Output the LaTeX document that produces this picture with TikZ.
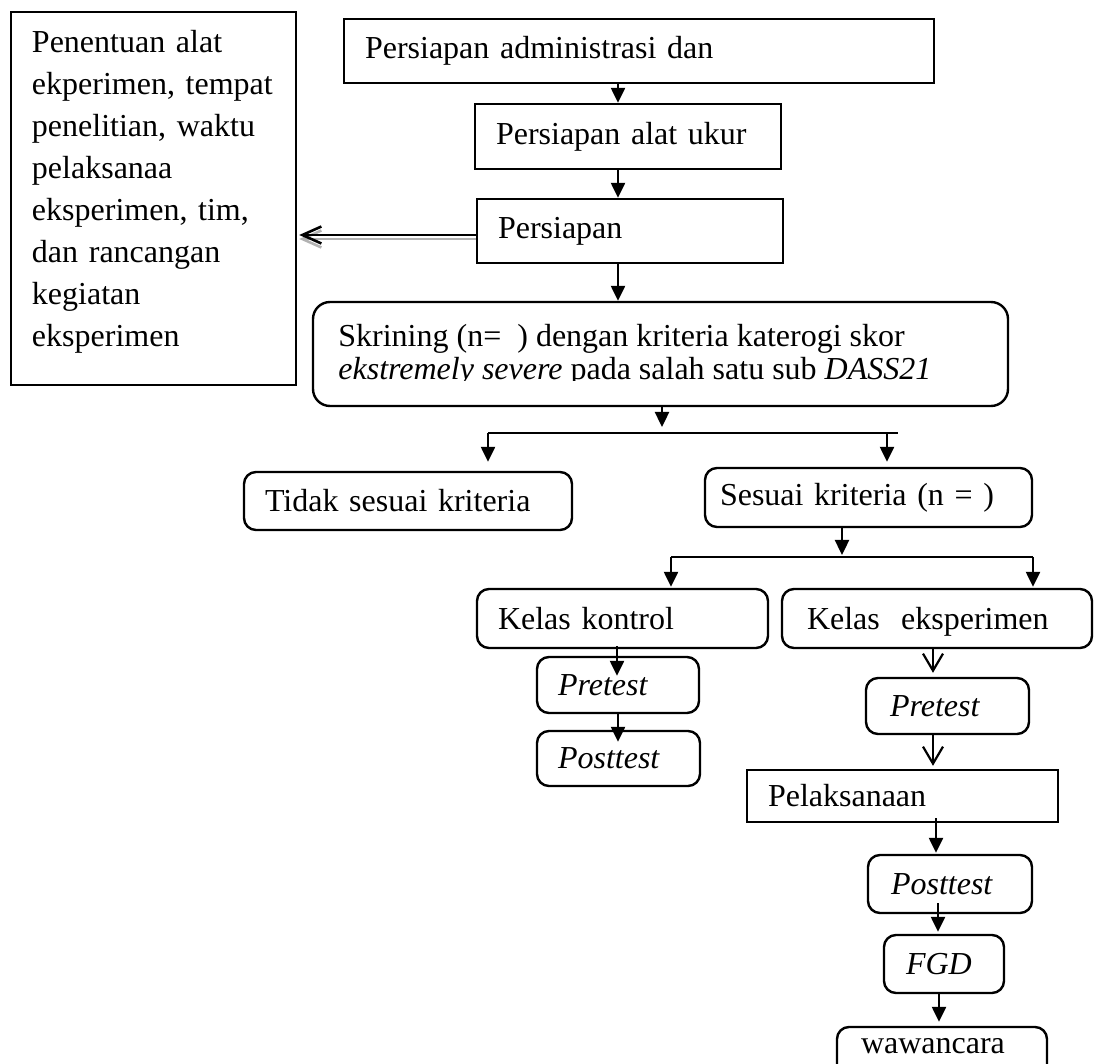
\documentclass[tikz,border=0pt]{standalone}
\usepackage{fontspec}
\setmainfont{Liberation Serif}
\usetikzlibrary{arrows.meta}

\begin{document}
\begin{tikzpicture}[x=0.5pt,y=-0.5pt,
    every node/.style={font=\fontsize{16pt}{21pt}\selectfont}]
      \tikzstyle{box}=[draw,line width=1.2pt,inner xsep=10.5pt,inner ysep=0pt,align=left]
      \tikzstyle{rbox}=[box,rounded corners=6pt]
      \tikzstyle{edge}=[draw,line width=1.2pt,-{Triangle[length=7.5pt,width=7pt]}]
      \tikzstyle{openedge}=[draw,line width=1.1pt,-{Straight Barb[length=8.5pt,width=10pt]}]
      \tikzstyle{link}=[draw,line width=1.2pt]
      \tikzstyle{back}=[draw,line width=1.3pt,-{Straight Barb[length=9.5pt,width=8.5pt]}]
      \useasboundingbox (0,0) rectangle (1094,1064);
      \clip (0,0) rectangle (1094,1064);
      \node[box,text width=274pt,minimum height=32pt] (adm) at (639,51) {Persiapan administrasi dan};
      \node[box,text width=132pt,minimum height=32.5pt] (alat) at (628,136.5) {Persiapan alat ukur};
      \node[box,text width=132pt,minimum height=32pt] (siap) at (630,231) {Persiapan};
      \node[box,text width=121.5pt,minimum height=186.5pt,text depth=157.5pt] (tentu) at (153.5,198.5)
        {Penentuan alat\\ ekperimen, tempat\\ penelitian, waktu\\ pelaksanaa\\ eksperimen, tim,\\ dan rancangan\\ kegiatan\\ eksperimen};
      \node[rbox,rounded corners=8.5pt,minimum width=347.5pt,minimum height=52pt] (skrin) at (660.5,354) {};
      \begin{scope}
        \clip (skrin.north west) rectangle (1008,381);
        \node[inner sep=0pt,anchor=north west,align=left,font=\fontsize{16pt}{16.5pt}\selectfont] (skrintxt) at (338,324)
          {Skrining (n=\ \ ) dengan kriteria katerogi skor\\ \textit{ekstremely severe} pada salah satu sub \textit{DASS21}};
      \end{scope}
      \node[rbox,text width=143pt,minimum height=29pt] (tidak) at (408,501) {Tidak sesuai kriteria};
      \node[rbox,inner xsep=7.5pt,text width=148.5pt,minimum height=29.5pt] (sesuai) at (868.5,497.5) {Sesuai kriteria (n = )};
      \node[rbox,text width=124.5pt,minimum height=29.5pt] (kontrol) at (622.5,618.5) {Kelas kontrol};
      \node[rbox,inner xsep=12.5pt,text width=130pt,minimum height=29.5pt,text depth=0pt] (eksp) at (937,618.5) {Kelas\ \ eksperimen};
      \node[rbox,text width=60pt,minimum height=28pt] (pre1) at (618,685) {\textit{Pretest}};
      \node[rbox,text width=60.5pt,minimum height=27.5pt] (post1) at (618.5,758.5) {\textit{Posttest}};
      \node[rbox,inner xsep=12pt,text width=57.5pt,minimum height=28pt] (pre2) at (947.5,706) {\textit{Pretest}};
      \node[box,text width=134.5pt,minimum height=26pt] (laks) at (902.5,796) {Pelaksanaan};
      \node[rbox,inner xsep=11.5pt,text width=59pt,minimum height=29pt] (post2) at (950,884) {\textit{Posttest}};
      \node[rbox,inner xsep=11pt,text width=38pt,minimum height=29pt] (fgd) at (944,964) {\textit{FGD}};
      \node[rbox,inner xsep=12pt,text width=81pt,minimum height=29pt,text depth=10pt] (wawan) at (942,1056) {wawancara};
      \coordinate (c1) at (662,427);
      \coordinate (c1l) at (488,433);
      \coordinate (c1r) at (898,433);
      \coordinate (c1d) at (887,433);
      \coordinate (c2) at (842,555);
      \coordinate (c2l) at (671,557);
      \coordinate (c2r) at (1033,557);
      \path[edge] ([xshift=-5pt]alat.north |- adm.south) -- ([xshift=-5pt]alat.north);
      \path[edge] ([xshift=-5pt]alat.south) -- ([xshift=-5pt]alat.south |- siap.north);
      \path[edge] ([xshift=-6pt]siap.south) -- ([xshift=-6pt]siap.south |- skrin.north);
      \path[back,draw=gray!60,shorten >=1pt] ([yshift=-4pt]siap.west) -- ([yshift=-4pt]siap.west -| tentu.east);
      \path[back,shorten >=1pt] ([yshift=-2pt]siap.west) -- ([yshift=-2pt]siap.west -| tentu.east);
      \path[edge] (skrin.south -| c1) -- (c1);
      \path[link] (c1l) -- (c1r);
      \path[edge,shorten >=4.5pt] (c1l) -- (c1l |- tidak.north);
      \path[edge,shorten >=2.5pt] (c1d) -- (c1d |- sesuai.north);
      \path[edge] (sesuai.south -| c2) -- (c2);
      \path[link] (c2l) -- (c2r);
      \path[edge,shorten >=0.5pt] (c2l) -- (c2l |- kontrol.north);
      \path[edge,shorten >=0.5pt] (c2r) -- (c2r |- eksp.north);
      \path[edge,shorten <=-1.5pt,shorten >=-10pt] ([xshift=-2.75pt]kontrol.south) -- ([xshift=-2.75pt]kontrol.south |- pre1.north);
      \path[edge,shorten >=-6pt] (pre1.south) -- (pre1.south |- post1.north);
      \path[openedge,shorten >=2pt] ([xshift=-2pt]eksp.south) -- ([xshift=-2pt]eksp.south |- pre2.north);
      \path[openedge,shorten >=1.5pt] ([xshift=-7.25pt]pre2.south) -- ([xshift=-7.25pt]pre2.south |- laks.north);
      \path[edge,shorten <=-2.5pt,shorten >=0.5pt] ([xshift=16.75pt]laks.south) -- ([xshift=16.75pt]laks.south |- post2.north);
      \path[edge,shorten <=-5.5pt,shorten >=1pt] ([xshift=-6pt]post2.south) -- ([xshift=-6pt]post2.south |- fgd.north);
      \path[edge,shorten >=2pt] ([xshift=-2.5pt]fgd.south) -- ([xshift=-2.5pt]fgd.south |- wawan.north);
    \end{tikzpicture}
\end{document}
